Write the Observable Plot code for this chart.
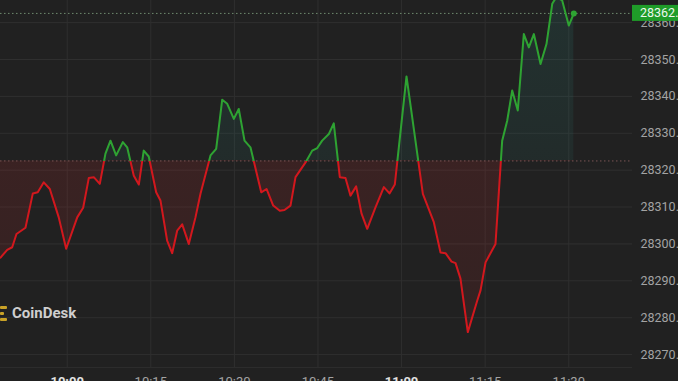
<!DOCTYPE html>
<html><head><meta charset="utf-8">
<script src="https://cdn.jsdelivr.net/npm/d3@7"></script>
<script src="https://cdn.jsdelivr.net/npm/@observablehq/plot@0.6"></script>
<style>
html,body{margin:0;padding:0;background:#212121;overflow:hidden}
#chart{position:relative;width:678px;height:381px}
</style></head><body><div id="chart"></div>
<script>
const times = ["09:48:02","09:49:14","09:50:08","09:50:54","09:52:31","09:53:50","09:54:43","09:55:48","09:56:53","09:58:29","09:59:49","10:01:48","10:02:52","10:03:53","10:04:46","10:05:51","10:06:52","10:07:46","10:08:47","10:09:59","10:10:46","10:11:57","10:12:51","10:13:44","10:14:38","10:15:58","10:16:44","10:17:56","10:18:50","10:19:44","10:20:38","10:21:49","10:23:01","10:23:55","10:25:43","10:26:44","10:27:49","10:28:43","10:29:54","10:30:47","10:31:49","10:32:53","10:34:49","10:35:46","10:36:58","10:38:09","10:38:59","10:40:04","10:40:58","10:42:46","10:43:58","10:44:52","10:45:45","10:46:57","10:47:50","10:48:55","10:49:56","10:50:50","10:51:51","10:52:49","10:53:50","10:55:19","10:56:49","10:57:50","10:58:47","11:00:53","11:03:49","11:05:47","11:06:59","11:07:53","11:08:58","11:09:41","11:10:34","11:11:53","11:13:34","11:14:10","11:15:04","11:16:51","11:18:03","11:18:57","11:19:51","11:20:51","11:21:56","11:22:50","11:23:44","11:24:56","11:26:00","11:27:02","11:27:48","11:28:49","11:30:00","11:30:54"];
const prices = [28296.3,28298.4,28299.1,28302.7,28304.4,28313.7,28314.0,28316.7,28314.9,28307.2,28298.7,28307.2,28309.8,28317.9,28318.1,28316.3,28324.5,28328.0,28324.0,28327.6,28326.2,28318.5,28316.1,28325.3,28323.7,28314.0,28311.8,28300.9,28297.5,28303.6,28305.3,28300.0,28307.2,28313.6,28324.0,28325.8,28339.1,28338.0,28333.9,28336.6,28328.0,28326.2,28314.0,28314.9,28310.4,28309.0,28309.2,28310.4,28318.1,28322.1,28325.3,28326.0,28328.0,28329.8,28332.7,28318.1,28317.9,28313.1,28315.6,28308.2,28304.1,28309.9,28315.4,28313.7,28316.1,28345.4,28313.6,28305.9,28297.7,28297.5,28295.2,28294.8,28290.6,28276.1,28284.6,28287.4,28295.0,28300.0,28328.0,28333.4,28341.6,28336.2,28356.9,28353.3,28356.9,28348.8,28354.2,28365.1,28367.0,28366.0,28359.2,28362.5];
const baseline = 28322.5;
const lastPrice = 28362.5;
const xTickLabels = ["10:00","10:15","10:30","10:45","11:00","11:15","11:30"];
const yTicks = [28270,28280,28290,28300,28310,28320,28330,28340,28350,28360];
const xDomain = ["09:48:02","11:41:26"];
const yDomain = [28266.5, 28366.0];

const GREEN = "#2ea332", RED = "#d3171d";
const W = 678, H = 381, mR = 46, mB = 14;
const parse = s => new Date(`2023-04-13T${s}Z`);
const data = times.map((t, i) => ({date: parse(t), price: prices[i]}));
const xTicks = xTickLabels.map(s => parse(s + ":00"));
const hourTicks = xTicks.filter(d => d.getUTCMinutes() === 0);
const minorTicks = xTicks.filter(d => d.getUTCMinutes() !== 0);
const fmt = d3.utcFormat("%H:%M");

const chart = Plot.plot({
  width: W, height: H,
  marginTop: 0, marginRight: mR, marginBottom: mB, marginLeft: 0,
  style: {background: "#212121", fontFamily: "Roboto, sans-serif", fontSize: "13px"},
  x: {type: "utc", domain: xDomain.map(parse)},
  y: {domain: yDomain},
  marks: [
    Plot.gridY(yTicks, {stroke: "#2f2f2f", strokeOpacity: 1}),
    Plot.gridX(xTicks, {stroke: "#2f2f2f", strokeOpacity: 1}),
    Plot.ruleY([yDomain[0]], {stroke: "#2c2c2c"}),
    Plot.areaY(data, {x: "date", y1: baseline, y2: "price", fill: "url(#fillGrad)", clip: true}),
    Plot.ruleY([baseline], {stroke: "#7a5555", strokeDasharray: "1.5,2.5"}),
    Plot.ruleY([lastPrice], {stroke: "#6e8a6e", strokeDasharray: "1.5,2.5"}),
    Plot.line(data, {x: "date", y: "price", stroke: "url(#lineGrad)", strokeWidth: 2, clip: true}),
    Plot.dot(data.slice(-1), {x: "date", y: "price", r: 3, fill: GREEN}),
    Plot.axisY(yTicks, {anchor: "right", tickSize: 0, tickPadding: 8, label: null, textAnchor: "start",
      tickFormat: d => d.toFixed(2), fill: "#a3a3a3", fontSize: 12.5}),
    Plot.axisX(minorTicks, {anchor: "bottom", tickSize: 0, tickPadding: 9, label: null,
      tickFormat: fmt, fill: "#a3a3a3", fontSize: 13}),
    Plot.axisX(hourTicks, {anchor: "bottom", tickSize: 0, tickPadding: 9, label: null,
      tickFormat: fmt, fill: "#e2e2e2", fontSize: 13, fontWeight: "bold"})
  ]
});

const svg = d3.select(chart);
const yS = chart.scale("y");
const yb = yS.apply(baseline);
const f = yb / H;
const defs = svg.insert("defs", ":first-child");
const lg = defs.append("linearGradient").attr("id", "lineGrad")
  .attr("gradientUnits", "userSpaceOnUse").attr("x1", 0).attr("x2", 0).attr("y1", 0).attr("y2", H);
lg.append("stop").attr("offset", f).attr("stop-color", GREEN);
lg.append("stop").attr("offset", f).attr("stop-color", RED);
const fg = defs.append("linearGradient").attr("id", "fillGrad")
  .attr("gradientUnits", "userSpaceOnUse").attr("x1", 0).attr("x2", 0).attr("y1", 0).attr("y2", H);
fg.append("stop").attr("offset", 0).attr("stop-color", "#2a8a80").attr("stop-opacity", 0.16);
fg.append("stop").attr("offset", f).attr("stop-color", "#2a8a80").attr("stop-opacity", 0.1);
fg.append("stop").attr("offset", f).attr("stop-color", "#c0282a").attr("stop-opacity", 0.16);
fg.append("stop").attr("offset", 1).attr("stop-color", "#c0282a").attr("stop-opacity", 0.1);

// current price tag
const yl = yS.apply(lastPrice);
svg.append("rect").attr("x", W - mR).attr("y", yl - 8).attr("width", mR).attr("height", 16).attr("fill", "#1f9c29");
svg.append("text").attr("x", W - mR + 8).attr("y", yl).attr("dy", "0.35em").attr("text-anchor", "start")
  .attr("fill", "#eef8ee").attr("font-size", 12.5).attr("font-family", "Roboto, sans-serif")
  .text(lastPrice.toFixed(2));

// CoinDesk watermark
const logo = svg.append("g");
[[306, 7], [312, 4], [318, 7]].forEach(([yy, w]) =>
  logo.append("rect").attr("x", 0).attr("y", yy).attr("width", w).attr("height", 3).attr("rx", 1).attr("fill", "#c9a227"));
logo.append("text").attr("x", 12).attr("y", 313).attr("dy", "0.35em").attr("text-anchor", "start")
  .attr("fill", "#cfcfcf").attr("font-size", 15).attr("font-weight", "bold")
  .attr("font-family", "Roboto, sans-serif").text("CoinDesk");

document.getElementById("chart").append(chart);
</script></body></html>
